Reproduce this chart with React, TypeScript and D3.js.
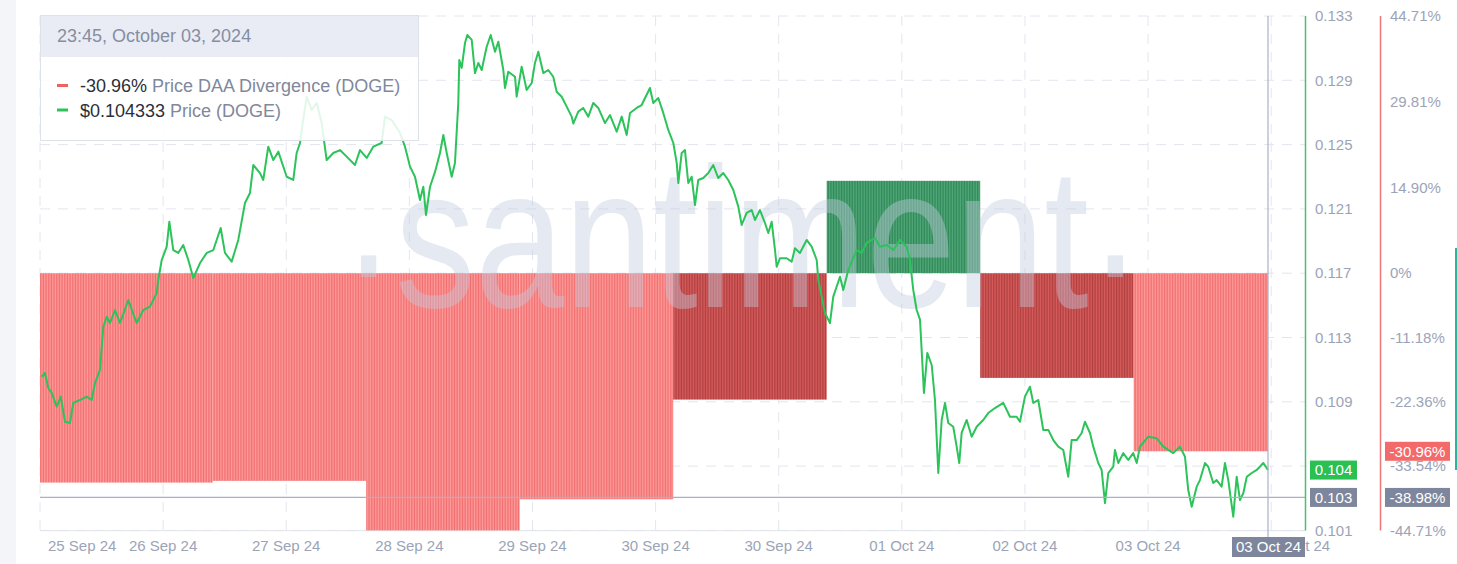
import React from "react";
import * as d3 from "d3";

const START_UTC = Date.UTC(2024, 8, 25, 23, 45);
const END_HOUR = 192;

const priceHours = [
  0.27, 0.78, 1.3, 1.83, 2.61, 3.24, 3.91, 4.69, 5.21, 6.25, 7.3, 8.08, 8.6, 9.38, 9.9, 10.43, 10.94, 11.73, 12.51, 13.81,
  15.12, 16.15, 17.2, 18.25, 18.5, 19.03, 19.81, 20.22, 20.84, 21.62, 22.4, 23.19, 23.97, 25.02, 26.06, 27.1, 28.25, 28.92, 29.97, 31.0,
  32.05, 32.83, 33.35, 34.4, 34.91, 35.69, 36.48, 37.26, 38.57, 39.6, 40.13, 40.65, 40.92, 41.7, 42.48, 43.26, 44.04, 44.82, 45.86, 46.9,
  47.95, 49.25, 50.03, 51.08, 52.11, 53.42, 53.94, 54.99, 56.29, 57.07, 57.85, 58.63, 59.41, 59.93, 60.35, 60.98, 61.76, 62.54, 63.06, 63.59,
  64.37, 64.88, 65.4, 65.56, 65.93, 66.45, 66.81, 67.5, 68.01, 68.53, 69.06, 69.84, 70.47, 71.14, 71.66, 72.44, 72.7, 73.22, 74.27, 74.53,
  75.31, 76.09, 76.88, 77.39, 77.91, 78.69, 79.47, 80.25, 80.78, 81.57, 82.35, 83.13, 83.38, 84.16, 84.94, 85.73, 86.51, 87.29, 88.34, 89.12,
  90.17, 90.95, 91.73, 92.25, 93.29, 94.07, 95.37, 95.89, 96.67, 97.45, 98.23, 99.02, 99.55, 99.8, 100.33, 100.84, 101.36, 101.89, 102.41, 102.92,
  103.71, 104.49, 105.27, 106.05, 106.83, 107.61, 108.4, 109.18, 109.71, 110.49, 111.27, 111.79, 112.57, 113.35, 113.87, 114.4, 114.92, 115.18, 115.7, 116.74,
  117.53, 118.04, 118.82, 119.87, 120.65, 121.44, 121.69, 122.73, 123.51, 124.03, 125.08, 125.59, 126.38, 127.69, 128.47, 129.25, 130.55, 131.33, 132.38, 133.41,
  134.46, 135.51, 136.02, 136.54, 137.07, 137.59, 138.21, 138.73, 139.42, 139.93, 140.45, 140.98, 141.5, 142.01, 142.79, 143.32, 143.73, 144.1, 144.89, 145.67,
  146.45, 147.48, 148.26, 149.31, 150.61, 151.66, 152.7, 153.22, 154.0, 154.78, 155.3, 156.08, 156.86, 157.65, 158.43, 159.21, 159.99, 160.77, 161.3, 162.09,
  162.87, 163.38, 164.17, 164.68, 165.46, 165.99, 166.51, 167.03, 167.81, 168.07, 168.59, 169.37, 170.15, 170.93, 171.47, 171.98, 173.28, 174.59, 175.63, 177.19,
  178.24, 179.02, 179.53, 180.07, 180.85, 181.36, 182.15, 182.66, 183.44, 183.97, 184.75, 185.27, 185.79, 186.57, 187.1, 187.62, 188.15, 188.68, 189.46, 190.24,
  191.27, 192.0,
];

const priceValues = [
  0.11014, 0.11037, 0.10944, 0.10913, 0.10828, 0.1089, 0.10734, 0.10726, 0.10851, 0.10869, 0.1089, 0.10869, 0.10975, 0.11056, 0.11325, 0.11387, 0.11348, 0.11429, 0.11348, 0.11491,
  0.11348, 0.11429, 0.1145, 0.11535, 0.11616, 0.1174, 0.11823, 0.11978, 0.11802, 0.11784, 0.11833, 0.1174, 0.11628, 0.11721, 0.11784, 0.11802, 0.11939, 0.11784, 0.1173, 0.11865,
  0.12095, 0.12157, 0.12331, 0.12281, 0.12238, 0.12445, 0.12362, 0.12414, 0.12258, 0.12238, 0.12406, 0.12468, 0.12549, 0.12756, 0.12673, 0.12717, 0.12592, 0.12362, 0.12406, 0.12424,
  0.12383, 0.12331, 0.12424, 0.12375, 0.12445, 0.12468, 0.12632, 0.12611, 0.1253, 0.12445, 0.12321, 0.12258, 0.12113, 0.12196, 0.1202, 0.12196, 0.12288, 0.12406, 0.12518, 0.12406,
  0.12258, 0.12344, 0.12717, 0.12984, 0.12935, 0.1309, 0.1314, 0.13109, 0.12903, 0.12966, 0.12922, 0.13067, 0.1314, 0.13036, 0.13098, 0.12922, 0.1281, 0.12911, 0.1288, 0.12756,
  0.12943, 0.12798, 0.12841, 0.12966, 0.13036, 0.12903, 0.12922, 0.1288, 0.12787, 0.12756, 0.12694, 0.12632, 0.12589, 0.12663, 0.12686, 0.12632, 0.12717, 0.12686, 0.12592, 0.12642,
  0.12538, 0.12632, 0.12518, 0.12655, 0.12686, 0.12704, 0.1281, 0.12717, 0.12748, 0.12655, 0.12549, 0.12468, 0.12344, 0.12219, 0.12406, 0.12424, 0.12219, 0.12258, 0.12082, 0.12238,
  0.1225, 0.12281, 0.12331, 0.1225, 0.12281, 0.12238, 0.12176, 0.12072, 0.11958, 0.12033, 0.12051, 0.11989, 0.12051, 0.1197, 0.11908, 0.11978, 0.11802, 0.11698, 0.11751, 0.11751,
  0.1173, 0.11813, 0.11784, 0.11865, 0.11823, 0.1174, 0.11616, 0.1141, 0.11348, 0.11512, 0.11636, 0.11553, 0.11678, 0.11802, 0.11784, 0.11847, 0.11877, 0.11823, 0.11833, 0.11802,
  0.11865, 0.11823, 0.1174, 0.11553, 0.11429, 0.11369, 0.10913, 0.11162, 0.11087, 0.10869, 0.10415, 0.10745, 0.10851, 0.10726, 0.10703, 0.10579, 0.10477, 0.10664, 0.10745, 0.10641,
  0.10703, 0.10745, 0.10788, 0.10819, 0.10851, 0.10765, 0.10765, 0.10734, 0.1089, 0.10952, 0.10851, 0.10869, 0.10683, 0.10683, 0.1062, 0.10579, 0.10558, 0.10392, 0.1062, 0.1062,
  0.10664, 0.10734, 0.10664, 0.10579, 0.10477, 0.10434, 0.10228, 0.10415, 0.10454, 0.10558, 0.10477, 0.10539, 0.10496, 0.10539, 0.10477, 0.10579, 0.10641, 0.10631, 0.10579, 0.10539,
  0.10579, 0.10516, 0.10309, 0.10205, 0.1033, 0.10371, 0.10477, 0.10454, 0.10353, 0.10371, 0.1033, 0.10477, 0.10371, 0.10143, 0.10392, 0.10247, 0.10291, 0.10392, 0.10415, 0.10434,
  0.10477, 0.104333,
];

// Daily Price-DAA divergence (%)
const divStartHours = [0, 27, 51, 75, 99, 123, 147, 171];
const divValues = [-36.4, -36.1, -44.71, -39.3, -21.97, 16.06, -18.2, -30.96];
const divStrong = [false, false, false, false, true, true, true, false];

const priceDomain = [0.10058, 0.13258];
const priceTickValues = [0.13258, 0.12858, 0.12458, 0.12058, 0.11658, 0.11258, 0.10858, 0.10458, 0.10058];
const divDomain = [-44.71, 44.71];
const divTickValues = [44.71, 29.81, 14.9, 0, -11.18, -22.36, -33.54, -44.71];
const xTickHours = [0, 19.25, 38.5, 57.75, 77, 96.25, 115.5, 134.75, 154, 173.25, 192.5];
const crosshairDivergence = -38.98;

const legendTitle = "23:45, October 03, 2024";
const seriesNames = ["Price DAA Divergence (DOGE)", "Price (DOGE)"];
const watermarkWord = "santiment";

const FONT = "'Liberation Sans', Arial, Helvetica, sans-serif";

export default function App() {
  const W = 1457;
  const H = 564;
  const left = 40;
  const right = 1305;
  const top = 16;
  const bottom = 530.4;
  const t = (h: number) => new Date(START_UTC + h * 3600e3);

  const x = d3.scaleUtc().domain([t(0), t(END_HOUR)]).range([left, 1268]);
  const yP = d3.scaleLinear().domain(priceDomain).range([bottom, top]);
  const yD = d3.scaleLinear().domain(divDomain).range([bottom, top]);

  const barW = x(t(0.25)) - x(t(0));

  const line = d3
    .line<number>()
    .x((_, i) => x(t(priceHours[i])))
    .y((d) => yP(d))
    .curve(d3.curveLinear);
  const linePath = line(priceValues) || "";

  const fmtDay = d3.utcFormat("%d %b %y");
  const gridColor = "#e3e6ee";
  const labelColor = "#9ba4b7";

  const lastPrice = priceValues[priceValues.length - 1];
  const lastDiv = divValues[divValues.length - 1];
  const crossY = yD(crosshairDivergence);
  const crossPrice = yP.invert(crossY);
  const crossX = x(t(END_HOUR));

  const fmtPct = (v: number) => (v === 0 ? "0%" : v.toFixed(2) + "%");

  return (
    <svg
      width={W}
      height={H}
      style={{ position: "absolute", left: 0, top: 0, display: "block", background: "#fff" }}
      fontFamily={FONT}
    >
      <defs>
        <pattern id="pLight" width={barW} height={4} patternUnits="userSpaceOnUse">
          <rect width={barW} height={4} fill="#ff9a9a" />
          <rect width={0.6} height={4} fill="#ec6262" />
        </pattern>
        <pattern id="pDark" width={barW} height={4} patternUnits="userSpaceOnUse">
          <rect width={barW} height={4} fill="#d65c5c" />
          <rect width={0.6} height={4} fill="#a53636" />
        </pattern>
        <pattern id="pGreen" width={barW} height={4} patternUnits="userSpaceOnUse">
          <rect width={barW} height={4} fill="#52aa7a" />
          <rect width={0.6} height={4} fill="#237a4b" />
        </pattern>
        <clipPath id="plotClip">
          <rect x={left} y={top - 2} width={right - left} height={bottom - top + 4} />
        </clipPath>
      </defs>

      <rect x={0} y={0} width={16} height={H} fill="#f4f5f8" />

      {/* grid */}
      {priceTickValues.map((v, i) => (
        <line
          key={"hg" + i}
          x1={left}
          x2={right}
          y1={yP(v)}
          y2={yP(v)}
          stroke={gridColor}
          strokeWidth={1}
          strokeDasharray="10 8"
        />
      ))}
      {xTickHours.map((h, i) => (
        <line
          key={"vg" + i}
          x1={x(t(h))}
          x2={x(t(h))}
          y1={top}
          y2={bottom}
          stroke={gridColor}
          strokeWidth={1}
          strokeDasharray="10 8"
        />
      ))}
      <line x1={left} x2={right} y1={bottom + 0.3} y2={bottom + 0.3} stroke="#e1e4eb" strokeWidth={1} />

      {/* divergence bars */}
      <g clipPath="url(#plotClip)">
        {divValues.map((v, i) => {
          const h0 = divStartHours[i];
          const h1 = i + 1 < divStartHours.length ? divStartHours[i + 1] : END_HOUR;
          const x0 = x(t(h0));
          const x1 = x(t(h1));
          const y0 = yD(0);
          const y1 = yD(v);
          const fill = v > 0 ? "url(#pGreen)" : divStrong[i] ? "url(#pDark)" : "url(#pLight)";
          return (
            <rect
              key={"b" + i}
              x={x0}
              width={x1 - x0}
              y={Math.min(y0, y1)}
              height={Math.abs(y1 - y0)}
              fill={fill}
            />
          );
        })}
      </g>

      {/* watermark */}
      <text
        x={742}
        y={307}
        textAnchor="middle"
        fontSize={200}
        fill="#c3cbdf"
        opacity={0.42}
        transform="translate(742,0) scale(0.8,1) translate(-742,0)"
      >
        <tspan dy={14}>·</tspan>
        <tspan dy={-14}>{watermarkWord}</tspan>
        <tspan dy={14}>·</tspan>
      </text>

      {/* price line */}
      <path d={linePath} fill="none" stroke="#2cc35a" strokeWidth={2} strokeLinejoin="round" />

      {/* crosshair */}
      <line x1={left} x2={right} y1={crossY} y2={crossY} stroke="#a9b1c5" strokeWidth={1.2} />
      <line x1={crossX} x2={crossX} y1={top} y2={537} stroke="#a9b1c5" strokeWidth={1.2} />

      {/* right axes */}
      <line x1={1305.5} x2={1305.5} y1={top} y2={bottom} stroke="#48c06c" strokeWidth={1.5} />
      <line x1={1380.5} x2={1380.5} y1={top} y2={bottom} stroke="#f07676" strokeWidth={1.5} />
      <line x1={1456} x2={1456} y1={248} y2={470} stroke="#2bb59e" strokeWidth={2} />

      {priceTickValues.map((v, i) => (
        <text key={"pt" + i} x={1315} y={yP(v)} dy="0.35em" fontSize={15} fill={labelColor}>
          {v.toFixed(3)}
        </text>
      ))}
      {divTickValues.map((v, i) => (
        <text key={"dt" + i} x={1390} y={yD(v)} dy="0.35em" fontSize={15} fill={labelColor}>
          {fmtPct(v)}
        </text>
      ))}

      {/* x labels */}
      {xTickHours.map((h, i) => {
        const px = x(t(h));
        const last = i === xTickHours.length - 1;
        const first = i === 0;
        return (
          <text
            key={"xt" + i}
            x={first ? px + 8 : last ? px + 59 : px}
            y={551}
            fontSize={15}
            fill={labelColor}
            textAnchor={first ? "start" : last ? "end" : "middle"}
          >
            {fmtDay(t(h))}
          </text>
        );
      })}

      {/* value boxes */}
      <rect x={1310} y={yP(lastPrice) - 9.5} width={47} height={19} fill="#2ac052" />
      <text x={1333.5} y={yP(lastPrice)} dy="0.35em" fontSize={15} fill="#fff" textAnchor="middle">
        {lastPrice.toFixed(3)}
      </text>
      <rect x={1310} y={crossY - 9.5} width={47} height={19} fill="#7d869c" />
      <text x={1333.5} y={crossY} dy="0.35em" fontSize={15} fill="#fff" textAnchor="middle">
        {crossPrice.toFixed(3)}
      </text>
      <rect x={1385} y={yD(lastDiv) - 9.5} width={65} height={19} fill="#f26a6a" />
      <text x={1417.5} y={yD(lastDiv)} dy="0.35em" fontSize={15} fill="#fff" textAnchor="middle">
        {fmtPct(lastDiv)}
      </text>
      <rect x={1385} y={crossY - 9.5} width={65} height={19} fill="#7d869c" />
      <text x={1417.5} y={crossY} dy="0.35em" fontSize={15} fill="#fff" textAnchor="middle">
        {fmtPct(crosshairDivergence)}
      </text>
      <rect x={crossX - 36} y={537} width={73} height={20} fill="#7d869c" />
      <text x={crossX + 0.5} y={547} dy="0.35em" fontSize={15} fill="#fff" textAnchor="middle">
        {fmtDay(t(END_HOUR))}
      </text>

      {/* legend */}
      <rect x={40.5} y={15.5} width={378} height={125} fill="rgba(255,255,255,0.86)" stroke="#dde1ea" />
      <rect x={41} y={16} width={377} height={41} fill="#e9ecf4" />
      <text x={57} y={42} fontSize={18} fill="#858ea2">
        {legendTitle}
      </text>
      <line x1={57} x2={68} y1={85.5} y2={85.5} stroke="#f06262" strokeWidth={3} />
      <text x={80} y={92} fontSize={18}>
        <tspan fill="#2b2f38">{fmtPct(lastDiv)}</tspan>
        <tspan fill="#7f889c"> {seriesNames[0]}</tspan>
      </text>
      <line x1={57} x2={68} y1={110} y2={110} stroke="#2cc35a" strokeWidth={3} />
      <text x={80} y={116.5} fontSize={18}>
        <tspan fill="#2b2f38">${lastPrice.toFixed(6)}</tspan>
        <tspan fill="#7f889c"> {seriesNames[1]}</tspan>
      </text>
    </svg>
  );
}
